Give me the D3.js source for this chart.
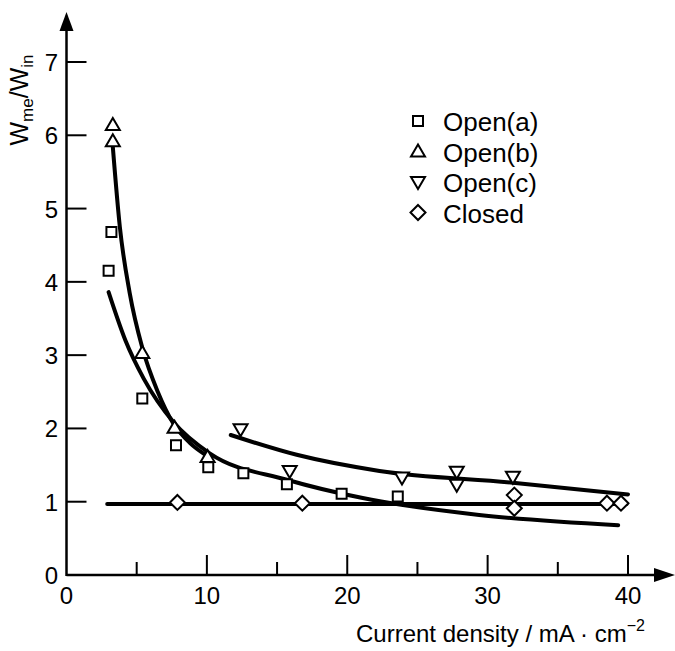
<!DOCTYPE html>
<html>
<head>
<meta charset="utf-8">
<script src="https://cdn.jsdelivr.net/npm/d3@7"></script>
<style>
  body { margin: 0; background: #fff; }
  text { font-family: "Liberation Sans", "DejaVu Sans", sans-serif; fill: #000; }
</style>
</head>
<body>
<div id="graph"></div>
<script>
// Measured points (current density mA/cm2, Wme/Win)
var openA = [ [3.0, 4.15], [3.2, 4.68], [5.4, 2.41], [7.8, 1.77], [10.1, 1.47],
              [12.6, 1.39], [15.7, 1.24], [19.6, 1.11], [23.6, 1.07] ];
var openB = [ [3.3, 6.14], [3.3, 5.92], [5.4, 3.03], [7.7, 2.01], [10.05, 1.61] ];
var openC = [ [12.4, 1.99], [15.9, 1.42], [23.9, 1.33], [27.8, 1.41], [27.8, 1.23], [31.8, 1.34] ];
var closedPts = [ [7.9, 0.99], [16.8, 0.98], [31.9, 1.09], [31.9, 0.91], [38.5, 0.98], [39.5, 0.98] ];

// Hand drawn fit curves
var fitA = [ [3.0, 3.86], [4.2, 3.20], [5.5, 2.68], [7.6, 2.09], [10.2, 1.66], [15.7, 1.30],
             [21.1, 1.05], [29.4, 0.82], [39.3, 0.68] ];
var fitB = [ [3.3, 5.84], [3.8, 4.75], [4.5, 3.85], [5.4, 3.10], [6.5, 2.50], [7.6, 2.07],
             [8.8, 1.80], [9.9, 1.64] ];
var fitC = [ [11.7, 1.91], [16.4, 1.64], [22.3, 1.42], [31.8, 1.26], [40.0, 1.10] ];
var fitClosed = [ [2.9, 0.97], [39.9, 0.97] ];

var xMajor = [0, 10, 20, 30, 40];
var xMinor = [5, 15, 25, 35];
var yMajor = [1, 2, 3, 4, 5, 6, 7];

var legendNames = ['Open(a)', 'Open(b)', 'Open(c)', 'Closed'];

var width = 675, height = 651;

var xScale = d3.scaleLinear ()
               .domain ( [0, 40] )
               .range ( [66.5, 628] );

var yScale = d3.scaleLinear ()
               .domain ( [0, 7] )
               .range ( [575, 62] );

var svg = d3.select ('#graph')
            .append ('svg')
            .attr ('width', width)
            .attr ('height', height);

// Axes with arrows
var x0 = xScale (0), y0 = yScale (0);

svg.append ('line')
   .attr ('x1', x0).attr ('y1', y0)
   .attr ('x2', 660).attr ('y2', y0)
   .attr ('stroke', '#000').attr ('stroke-width', 2.5);

svg.append ('path')
   .attr ('d', 'M675,' + y0 + ' L654,' + (y0 - 7) + ' L654,' + (y0 + 7) + ' Z')
   .attr ('fill', '#000');

svg.append ('line')
   .attr ('x1', x0).attr ('y1', y0 + 1)
   .attr ('x2', x0).attr ('y2', 26)
   .attr ('stroke', '#000').attr ('stroke-width', 2.5);

svg.append ('path')
   .attr ('d', 'M' + x0 + ',12 L' + (x0 - 7) + ',31 L' + (x0 + 7) + ',31 Z')
   .attr ('fill', '#000');

// Ticks (pointing inward)
svg.selectAll ('.xmaj')
   .data (xMajor.filter (function (d) { return d > 0; }))
   .enter ()
   .append ('line')
   .attr ('x1', function (d) { return xScale (d); })
   .attr ('x2', function (d) { return xScale (d); })
   .attr ('y1', y0).attr ('y2', y0 - 20)
   .attr ('stroke', '#000').attr ('stroke-width', 2);

svg.selectAll ('.xmin')
   .data (xMinor)
   .enter ()
   .append ('line')
   .attr ('x1', function (d) { return xScale (d); })
   .attr ('x2', function (d) { return xScale (d); })
   .attr ('y1', y0).attr ('y2', y0 - 13)
   .attr ('stroke', '#000').attr ('stroke-width', 2);

svg.selectAll ('.ymaj')
   .data (yMajor)
   .enter ()
   .append ('line')
   .attr ('x1', x0).attr ('x2', x0 + 20)
   .attr ('y1', function (d) { return yScale (d); })
   .attr ('y2', function (d) { return yScale (d); })
   .attr ('stroke', '#000').attr ('stroke-width', 2);

// Tick labels
svg.selectAll ('.xlab')
   .data (xMajor)
   .enter ()
   .append ('text')
   .attr ('x', function (d) { return xScale (d); })
   .attr ('y', 604)
   .attr ('text-anchor', 'middle')
   .style ('font-size', '24px')
   .text (function (d) { return d; });

svg.selectAll ('.ylab')
   .data ([0].concat (yMajor))
   .enter ()
   .append ('text')
   .attr ('x', 58)
   .attr ('y', function (d) { return yScale (d) + 9; })
   .attr ('text-anchor', 'end')
   .style ('font-size', '24px')
   .text (function (d) { return d; });

// Axis labels
var xl = svg.append ('text')
            .attr ('x', 645)
            .attr ('y', 642)
            .attr ('text-anchor', 'end')
            .style ('font-size', '24px');
xl.append ('tspan').text ('Current density / mA \u00b7 cm');
xl.append ('tspan').attr ('dy', -11).style ('font-size', '16px').text ('\u22122');

var yl = svg.append ('text')
            .attr ('transform', 'translate(28,100) rotate(-90)')
            .attr ('text-anchor', 'middle')
            .style ('font-size', '25px');
yl.append ('tspan').text ('W');
yl.append ('tspan').attr ('dy', 5).style ('font-size', '17px').text ('me');
yl.append ('tspan').attr ('dy', -5).text ('/W');
yl.append ('tspan').attr ('dy', 5).style ('font-size', '17px').text ('in');

// Fit curves
var lineGen = d3.line ()
                .x (function (d) { return xScale (d[0]); })
                .y (function (d) { return yScale (d[1]); })
                .curve (d3.curveMonotoneX);

[fitA, fitB, fitC, fitClosed].forEach (function (f) {
    svg.append ('path')
       .datum (f)
       .attr ('d', lineGen)
       .attr ('fill', 'none')
       .attr ('stroke', '#000')
       .attr ('stroke-width', 4)
       .attr ('stroke-linecap', 'round');
});

// Marker shapes
var shapes = [
    'M-5,-5 L5,-5 L5,5 L-5,5 Z',
    'M0,-7 L7,5 L-7,5 Z',
    'M0,7 L7,-5 L-7,-5 Z',
    'M0,-7.5 L7.5,0 L0,7.5 L-7.5,0 Z'
];

function drawMarkers (data, shape)
{
    svg.append ('g')
       .selectAll ('path')
       .data (data)
       .enter ()
       .append ('path')
       .attr ('transform', function (d) { return 'translate(' + xScale (d[0]) + ',' + yScale (d[1]) + ')'; })
       .attr ('d', shape)
       .attr ('fill', '#fff')
       .attr ('stroke', '#000')
       .attr ('stroke-width', 2);
}

drawMarkers (openA, shapes[0]);
drawMarkers (openB, shapes[1]);
drawMarkers (openC, shapes[2]);
drawMarkers (closedPts, shapes[3]);

// Legend
var legend = svg.append ('g');
legendNames.forEach (function (name, i) {
    var ly = 121 + i * 30.5;
    legend.append ('path')
          .attr ('transform', 'translate(418,' + ly + ')')
          .attr ('d', shapes[i])
          .attr ('fill', '#fff')
          .attr ('stroke', '#000')
          .attr ('stroke-width', 2);
    legend.append ('text')
          .attr ('x', 443)
          .attr ('y', ly + 10)
          .style ('font-size', '26px')
          .text (name);
});
</script>
</body>
</html>
